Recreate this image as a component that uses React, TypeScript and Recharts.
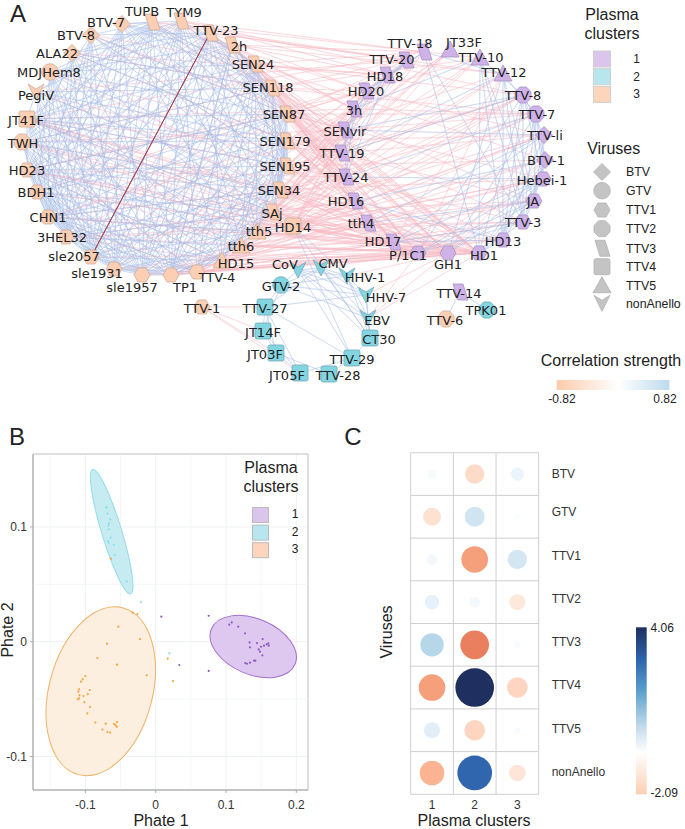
import React from 'react';
import {
  ComposedChart, ScatterChart, Line, Scatter, XAxis, YAxis, CartesianGrid, ReferenceLine, ReferenceArea,
} from 'recharts';

const SANS = '"Liberation Sans", Arial, sans-serif';
const NET_FONT = '"DejaVu Sans", sans-serif';

// ---- panel A: nodes [name, x, y, virus type, label x, label y]
type NodeRow = [string, number, number, string, number, number];

const cluster1Nodes: NodeRow[] = [
  ['TTV-18', 424, 52, 'TTV3', 410, 43], ['JT33F', 450, 50, 'TTV5', 464, 42], ['TTV-10', 480, 58, 'TTV5', 481, 57],
  ['TTV-12', 503, 74, 'TTV5', 504, 72], ['TTV-8', 523, 95, 'TTV2', 523, 95], ['TTV-7', 536, 114, 'TTV2', 537, 114],
  ['TTV-li', 544, 135, 'BTV', 545, 135], ['BTV-1', 545, 160, 'BTV', 546, 160], ['Hebei-1', 543, 179, 'TTV1', 542, 180],
  ['JA', 534, 201, 'TTV1', 533, 201], ['TTV-3', 523, 222, 'TTV1', 523, 222], ['HD13', 503, 240, 'TTV1', 503, 241],
  ['HD1', 479, 253, 'TTV1', 484, 255], ['GH1', 448, 253, 'TTV1', 448, 264], ['P/1C1', 418, 253, 'TTV1', 408, 255],
  ['HD17', 393, 242, 'TTV3', 383, 241], ['tth4', 368, 223, 'TTV3', 361, 223], ['HD16', 355, 201, 'TTV3', 346, 201],
  ['TTV-24', 346, 177, 'TTV3', 346, 177], ['TTV-19', 342, 153, 'TTV3', 342, 153], ['SENvir', 345, 130, 'TTV3', 345, 131],
  ['3h', 354, 109, 'TTV3', 354, 110], ['HD20', 366, 91, 'TTV3', 366, 91], ['HD18', 387, 75, 'TTV3', 385, 76],
  ['TTV-20', 406, 60, 'TTV3', 392, 59], ['TTV-14', 460, 292, 'TTV3', 459, 293],
];

const cluster2Nodes: NodeRow[] = [
  ['CoV', 298, 270, 'nonAnello', 285, 264], ['CMV', 321, 268, 'nonAnello', 333, 263], ['HHV-1', 347, 276, 'nonAnello', 365, 277],
  ['HHV-7', 366, 295, 'nonAnello', 386, 297], ['EBV', 368, 318, 'nonAnello', 377, 320], ['CT30', 370, 338, 'TTV4', 379, 339],
  ['TTV-29', 352, 358, 'TTV4', 352, 359], ['TTV-28', 329, 374, 'TTV4', 338, 375], ['JT05F', 300, 373, 'TTV4', 287, 375],
  ['JT03F', 276, 353, 'TTV4', 265, 354], ['JT14F', 263, 331, 'TTV4', 263, 332], ['TTV-27', 265, 307, 'TTV4', 265, 308],
  ['GTV-2', 281, 285, 'GTV', 281, 286], ['TPK01', 487, 310, 'TTV2', 486, 310],
];

const cluster3Nodes: NodeRow[] = [
  ['BTV-7', 122, 24, 'BTV', 106, 22], ['TUPB', 152, 22, 'TTV3', 142, 11], ['TYM9', 181, 21, 'TTV3', 184, 12],
  ['TTV-23', 210, 33, 'TTV3', 216, 30], ['2h', 232, 45, 'TTV3', 239, 46], ['SEN24', 255, 64, 'TTV3', 253, 64],
  ['SEN118', 272, 88, 'TTV3', 268, 87], ['SEN87', 287, 114, 'TTV3', 284, 114], ['SEN179', 287, 141, 'TTV3', 285, 141],
  ['SEN195', 287, 166, 'TTV3', 285, 166], ['SEN34', 280, 190, 'TTV3', 279, 190], ['SAj', 273, 212, 'TTV3', 272, 213],
  ['HD14', 293, 226, 'TTV4', 293, 227], ['tth5', 257, 232, 'TTV5', 259, 231], ['tth6', 241, 246, 'TTV5', 241, 246],
  ['HD15', 222, 261, 'TTV5', 236, 263], ['TTV-4', 197, 272, 'TTV1', 217, 277], ['TP1', 171, 275, 'TTV1', 185, 287],
  ['sle1957', 142, 275, 'TTV1', 132, 287], ['sle1931', 114, 269, 'TTV1', 97, 273], ['sle2057', 91, 257, 'TTV1', 74, 256],
  ['3HEL32', 66, 237, 'TTV1', 62, 237], ['CHN1', 48, 217, 'TTV1', 48, 217], ['BDH1', 37, 192, 'TTV1', 36, 192],
  ['HD23', 27, 170, 'TTV1', 27, 170], ['TWH', 22, 142, 'TTV2', 23, 143], ['JT41F', 27, 119, 'TTV4', 26, 120],
  ['PegiV', 36, 92, 'nonAnello', 36, 95], ['MDJHem8', 50, 72, 'GTV', 49, 72], ['ALA22', 72, 53, 'BTV', 57, 53],
  ['BTV-8', 91, 35, 'BTV', 76, 35], ['TTV-1', 202, 307, 'TTV1', 202, 308], ['TTV-6', 446, 319, 'TTV2', 445, 320],
];

// ---- panel A: edges, one fan per source node
const blueLinks: [string, string][] = [
  ['TUPB', 'BTV-7 BTV-8 MDJHem8 PegiV JT41F TWH HD23 BDH1 CHN1 3HEL32 sle2057 sle1931 sle1957 TP1 SEN118 SEN87 SEN179 SEN34 tth5 HD15'],
  ['TYM9', 'BTV-7 ALA22 PegiV JT41F HD23 CHN1 3HEL32 sle2057 sle1931 sle1957 TP1 TTV-4 SEN24 SEN87 SEN195 SAj tth6'],
  ['TTV-23', 'BTV-8 ALA22 MDJHem8 TWH BDH1 CHN1 3HEL32 sle1931 sle1957 TP1 SEN24 SEN118 SEN179 SEN34 tth5 HD15'],
  ['2h', 'BTV-7 MDJHem8 JT41F HD23 CHN1 sle2057 sle1957 TP1 TTV-4 SEN118 SEN87 SEN195'],
  ['BTV-7', 'BDH1 CHN1 3HEL32 sle2057 sle1931 sle1957 SEN24 SEN118 SEN179 SAj tth6 HD23'],
  ['BTV-8', 'TWH CHN1 3HEL32 sle1931 TP1 SEN87 SEN195 SEN34 sle2057 BDH1'],
  ['ALA22', 'HD23 CHN1 sle2057 sle1957 TTV-4 SEN118 SEN179 tth5 3HEL32'],
  ['MDJHem8', 'BDH1 3HEL32 sle2057 sle1931 TP1 SEN24 SEN87 SEN195 SAj HD15 CHN1 sle1957'],
  ['PegiV', 'CHN1 sle2057 sle1957 TTV-4 SEN118 SEN179 SEN34 tth6 JT41F 3HEL32'],
  ['JT41F', 'HD23 CHN1 3HEL32 sle1931 TP1 SEN24 SEN87 SEN195 SAj tth5 HD15 sle2057 sle1957 SEN179'],
  ['TWH', 'BDH1 3HEL32 sle2057 sle1957 TTV-4 SEN118 SEN179 SEN34 tth6 CHN1 sle1931'],
  ['HD23', 'CHN1 sle2057 sle1931 sle1957 TP1 SEN24 SEN87 SEN195 tth5 3HEL32 SEN34 HD15'],
  ['BDH1', '3HEL32 sle2057 sle1931 sle1957 TP1 TTV-4 SEN118 SEN179 SAj tth6 CHN1 SEN87'],
  ['CHN1', 'sle2057 sle1931 sle1957 TP1 SEN24 SEN87 SEN195 SEN34 tth5 HD15 3HEL32 TTV-4'],
  ['3HEL32', 'sle1931 sle1957 TTV-4 SEN118 SEN179 SAj tth6 sle2057 SEN34'],
  ['sle2057', 'sle1931 sle1957 TP1 SEN24 SEN87 SEN195 tth5 HD15 SEN34'],
  ['sle1931', 'sle1957 TP1 TTV-4 SEN118 SEN179 SEN34 tth6 SEN24'],
  ['sle1957', 'TP1 SEN24 SEN87 SEN195 SAj tth5 SEN118 HD15'],
  ['TP1', 'TTV-4 SEN118 SEN179 SEN34 tth6 SEN24 2h SEN87'],
  ['TTV-4', 'SEN24 SEN87 SEN195 tth5 SEN179 SAj'],
  ['SEN24', 'SEN179 SEN34 tth5 SEN195 HD15 tth6'],
  ['SEN118', 'SEN195 SAj tth6 SEN34 SEN87'],
  ['SEN87', 'SEN34 HD15 tth5 SEN195 SAj'],
  ['SEN179', 'SEN34 tth5 SEN195 HD15 SAj'],
  ['SEN195', 'tth6 SAj tth5 HD15'],
  ['HD14', 'TTV-29 CT30 tth5 HHV-1'],
  ['TTV-18', 'HD18 HD1 TTV-12 TTV-3 HD20'],
  ['TTV-10', 'HD13 JA TTV-8 HD1 TTV-3'],
  ['TTV-12', 'GH1 HD13 JA TTV-7 TTV-3'],
  ['TTV-8', 'HD1 TTV-3 HD13 BTV-1 TTV-li Hebei-1 P/1C1'],
  ['TTV-7', 'HD13 TTV-3 GH1 Hebei-1 JA BTV-1'],
  ['TTV-li', 'Hebei-1 JA HD17 HD13 tth4'],
  ['BTV-1', 'HD1 TTV-3 HD16 JA'],
  ['Hebei-1', 'TTV-24 HD17 GH1 HD1 P/1C1 HD13'],
  ['JA', 'tth4 HD1 P/1C1 GH1 TTV-3'],
  ['TTV-3', 'HD1 P/1C1 HD17'],
  ['HD13', 'HD1 HD17 HD16'],
  ['TTV-19', 'HD20 3h TTV-20 TTV-12 TTV-8'],
  ['TTV-24', 'SENvir 3h HD18 TTV-7'],
  ['SENvir', 'HD20 HD18 TTV-8 TTV-li'],
  ['3h', 'HD18 TTV-20 TTV-10'],
  ['HD20', 'TTV-20 TTV-18'],
  ['CMV', 'CoV HHV-1 HHV-7 EBV CT30 GTV-2 TTV-27'],
  ['CoV', 'HHV-1 HHV-7 EBV CT30 GTV-2 TTV-29'],
  ['HHV-1', 'HHV-7 EBV CT30 GTV-2'],
  ['HHV-7', 'EBV CT30 GTV-2 TTV-27'],
  ['EBV', 'CT30 GTV-2'],
  ['TTV-27', 'JT14F JT03F GTV-2 TTV-29 JT05F'],
  ['JT14F', 'JT03F JT05F GTV-2'],
  ['JT03F', 'JT05F TTV-28'],
  ['TTV-29', 'TTV-28 CT30 JT05F'],
  ['TTV-14', 'TTV-6 TPK01'],
];

const pinkLinks: [string, string][] = [
  ['HD1', 'TTV-23 2h SEN24 SEN118 SEN87 SEN179 SEN195 SEN34 SAj HD14 tth5 tth6 HD15 TTV-4 TP1 sle1957 sle1931 TYM9 TUPB JT41F TWH BDH1 CHN1 HD23 EBV'],
  ['GH1', 'TTV-23 2h SEN24 SEN118 SEN87 SEN179 SEN195 SEN34 SAj HD14 tth5 tth6 HD15 TTV-4 sle2057 3HEL32 MDJHem8 PegiV EBV HHV-7 HHV-1'],
  ['P/1C1', '2h SEN24 SEN118 SEN87 SEN179 SEN195 SEN34 SAj HD14 tth5 tth6 HD15 TP1 sle1957 JT41F TWH HD23 CMV'],
  ['HD17', 'TTV-23 2h SEN24 SEN118 SEN87 SEN179 SEN34 HD14 tth5 HD15 TTV-4 CHN1 BDH1'],
  ['tth4', 'TYM9 2h SEN24 SEN118 SEN87 SEN195 SAj HD14 tth6 TP1 JT41F'],
  ['HD16', 'TUPB SEN24 SEN118 SEN179 SEN34 SAj HD14 tth5 HD15 3HEL32 TWH'],
  ['TTV-24', 'TTV-23 2h SEN118 SEN87 SEN195 SEN34 SAj HD14 tth6 sle2057 PegiV HD23'],
  ['TTV-19', 'TYM9 2h SEN24 SEN179 SEN195 SAj HD14 tth5 TTV-4 MDJHem8 JT41F'],
  ['SENvir', 'TUPB TTV-23 SEN118 SEN87 SEN34 SAj HD14 tth6 CHN1 TWH BTV-8'],
  ['3h', 'TYM9 2h SEN24 SEN179 SEN195 HD14 tth5 sle1931 JT41F'],
  ['HD20', 'TUPB TTV-23 SEN118 SEN87 SEN34 SAj HD15 TP1 HD23'],
  ['HD18', 'TYM9 2h SEN24 SEN179 SEN195 HD14 tth6 BDH1 ALA22'],
  ['TTV-20', 'TUPB TTV-23 SEN118 SEN87 SEN34 tth5 HD15 PegiV'],
  ['TTV-18', 'TYM9 2h SEN24 SEN179 HD14 tth6 JT41F'],
  ['JT33F', 'HD14 SEN195 tth5 SAj TTV-4 sle1957'],
  ['TTV-10', 'TUPB SEN118 SEN87 HD14 tth6 SEN34'],
  ['TTV-12', 'TTV-23 2h SEN179 SAj HD15 HD17 P/1C1'],
  ['TTV-8', 'TYM9 SEN24 SEN195 HD14 TP1 HD16 TTV-19 TTV-24'],
  ['TTV-7', 'SEN118 SEN87 SEN34 HD14 tth5 SENvir 3h'],
  ['TTV-li', 'SEN179 SAj HD14 tth6 TTV-4 HD20 TTV-19 GH1'],
  ['BTV-1', 'SEN24 SEN195 HD14 HD15 P/1C1 GH1'],
  ['Hebei-1', 'SEN87 SEN34 HD14 tth5 TP1 sle1957'],
  ['JA', 'SEN118 SEN179 SAj HD14 tth6 HD15'],
  ['TTV-3', 'SEN87 SEN195 HD14 tth5 TTV-4 sle1931'],
  ['HD13', 'SEN179 SEN34 HD14 tth6 HD15 TP1'],
  ['JT41F', 'SEN34 SEN195 HD14 SAj'],
  ['TWH', 'SEN118 tth5 HD14 TTV-4'],
  ['HD23', 'SEN87 SAj HD14 HD15 tth6'],
  ['CHN1', 'SEN179 SEN34 HD14 TTV-4'],
  ['3HEL32', 'SEN87 tth5 HD14 HD15'],
  ['BTV-8', 'SEN24 SEN87 SEN195'],
  ['ALA22', 'SEN118 SEN179 HD14'],
  ['TTV-4', 'HD14 HD15'],
  ['TP1', 'HD14 tth6'],
  ['TTV-1', 'TTV-27 JT14F JT03F JT05F'],
  ['EBV', 'CT30 P/1C1'],
];

const darkLinks: [string, string][] = [['TTV-23', 'sle2057']];

// ---- panel A + B legends
const clusterLabels = ['1', '2', '3'];
const virusTypes = ['BTV', 'GTV', 'TTV1', 'TTV2', 'TTV3', 'TTV4', 'TTV5', 'nonAnello'];

// ---- panel B: samples (Phate 1, Phate 2)
const phatePurple = [
  [0.008, 0.0218], [0.0336, -0.0203], [0.0754, 0.0226], [0.0754, -0.0255], [0.1047, 0.0148], [0.1081, 0.0168],
  [0.1175, 0.0131], [0.127, 0.0073], [0.1336, -0.0006], [0.1341, -0.0049], [0.1441, -0.0012], [0.1521, 0.0023],
  [0.1464, -0.0067], [0.1498, -0.0044], [0.1483, -0.0087], [0.154, -0.0035], [0.1517, -0.0119], [0.1578, -0.0023],
  [0.1602, -0.0015], [0.1607, -0.0035], [0.1275, -0.0186], [0.1299, -0.0192], [0.1341, -0.0183], [0.1398, -0.0165],
  [0.1417, -0.0165],
];
const phateTeal = [
  [-0.0706, 0.117], [-0.0697, 0.1167], [-0.0687, 0.1115], [-0.0649, 0.1065], [-0.0664, 0.103], [-0.0673, 0.1013],
  [-0.0668, 0.0978], [-0.064, 0.0906], [-0.0678, 0.0877], [-0.0668, 0.0862], [-0.0597, 0.0842], [-0.0583, 0.0755],
  [-0.0412, 0.0525], [-0.0209, 0.0345], [0.0194, -0.0102],
];
const phateOrange = [
  [-0.0635, 0.0723], [-0.0327, 0.0253], [-0.0261, 0.0241], [-0.0531, 0.0131], [-0.0223, 0.0023], [-0.0692, -0.0017],
  [-0.0829, -0.0142], [-0.055, -0.02], [0.0171, -0.0148], [-0.0128, -0.0293], [0.0246, -0.0343], [-0.1, -0.0299],
  [-0.1038, -0.0328], [-0.1062, -0.0348], [-0.109, -0.0415], [-0.0938, -0.0421], [-0.11, -0.0435], [-0.0967, -0.0456],
  [-0.1085, -0.0467], [-0.1028, -0.0473], [-0.1109, -0.0502], [-0.109, -0.0493], [-0.1014, -0.0528], [-0.0934, -0.0569],
  [-0.0972, -0.0624], [-0.0858, -0.0705], [-0.0711, -0.0714], [-0.055, -0.07], [-0.0592, -0.0717], [-0.0573, -0.0726],
  [-0.0555, -0.074], [-0.0758, -0.0766], [-0.0687, -0.0787], [-0.0649, -0.0792],
];
const ellipseCentres = [
  { x: 0.1387, y: -0.0042, rx: 45.4, ry: 27.8, angle: 23, fill: '#dfc8f0', stroke: '#a26fcb' },
  { x: -0.0626, y: 0.0958, rx: 65, ry: 10, angle: 73, fill: '#c6ecf2', stroke: '#93dce6' },
  { x: -0.0781, y: -0.0432, rx: 86.3, ry: 51.7, angle: -75, fill: '#fdefdf', stroke: '#f1b163' },
];
const phateXTicks = [-0.1, 0, 0.1, 0.2];
const phateYTicks = [-0.1, 0, 0.1];
const phateXMinor = [-0.15, -0.05, 0.05, 0.15];
const phateYMinor = [-0.05, 0.05];

// ---- panel C: values per cluster
const matrixViruses = ['BTV', 'GTV', 'TTV1', 'TTV2', 'TTV3', 'TTV4', 'TTV5', 'nonAnello'];
const matrixCluster1 = [0.2, -0.88, 0.31, 0.58, 1.48, -1.93, 0.7, -1.65];
const matrixCluster2 = [-1.02, 1.09, -1.93, 0.31, -2.23, 4.06, -1.16, 3.27];
const matrixCluster3 = [0.48, 0.08, 1.02, -0.7, 0.12, -1.16, 0.1, -0.75];
const matrixLabelNudge = [0, -5, -3.5, -3, -3, -2.5, -2, -1];

const colourStops: [number, number[]][] = [
  [-2.23, [233, 127, 94]], [-1.93, [245, 160, 122]], [-1.65, [252, 179, 145]], [-1.16, [253, 213, 192]],
  [-0.7, [253, 232, 220]], [0, [255, 255, 255]], [0.1, [247, 251, 255]], [0.31, [243, 248, 253]],
  [0.6, [230, 240, 249]], [1.05, [211, 229, 242]], [1.48, [182, 214, 233]], [3.27, [47, 102, 173]], [4.06, [31, 47, 96]],
];

function valueColour(v: number) {
  for (let i = 1; i < colourStops.length; i++) {
    const [a, ca] = colourStops[i - 1];
    const [b, cb] = colourStops[i];
    if (v <= b) {
      const t = Math.max(0, (v - a) / (b - a));
      return `rgb(${ca.map((c, k) => Math.round(c + (cb[k] - c) * t)).join(',')})`;
    }
  }
  return 'rgb(31,47,96)';
}

const clusterFill: Record<number, string> = { 1: '#cfb2e8', 2: '#84d5e2', 3: '#fcceb3' };
const clusterEdge: Record<number, string> = { 1: '#a894c0', 2: '#72a9b5', 3: '#cfae9b' };

function Marker({ type, cx, cy, fill, stroke }: { type: string; cx: number; cy: number; fill: string; stroke: string }) {
  const poly = (pts: number[][]) => (
    <polygon points={pts.map(p => `${cx + p[0]},${cy + p[1]}`).join(' ')} fill={fill} stroke={stroke} strokeWidth={0.8} />
  );
  if (type === 'BTV') return poly([[0, -8.5], [8.5, 0], [0, 8.5], [-8.5, 0]]);
  if (type === 'GTV') return <circle cx={cx} cy={cy} r={8.3} fill={fill} stroke={stroke} strokeWidth={0.8} />;
  if (type === 'TTV1') return poly([[-8, 0], [-4, -7], [4, -7], [8, 0], [4, 7], [-4, 7]]);
  if (type === 'TTV2') return poly([[-3.3, -8], [3.3, -8], [8, -3.3], [8, 3.3], [3.3, 8], [-3.3, 8], [-8, 3.3], [-8, -3.3]]);
  if (type === 'TTV3') return poly([[-7, -8], [3, -8], [8, 8], [-2, 8]]);
  if (type === 'TTV4') return <rect x={cx - 8} y={cy - 8} width={16} height={16} rx={2} fill={fill} stroke={stroke} strokeWidth={0.8} />;
  if (type === 'TTV5') return poly([[0, -9], [9, 7], [-9, 7]]);
  return poly([[-8, -8], [0, -3], [8, -8], [0, 8]]);
}

const allNodes = [
  ...cluster1Nodes.map(n => ({ n, c: 1 })),
  ...cluster2Nodes.map(n => ({ n, c: 2 })),
  ...cluster3Nodes.map(n => ({ n, c: 3 })),
].map(({ n, c }) => ({ name: n[0], x: n[1], y: n[2], type: n[3], lx: n[4], ly: n[5], cluster: c }));

const nodeByName = new Map(allNodes.map(n => [n.name, n]));
const labelPoints = allNodes.map(n => ({ name: n.name, x: n.lx, y: n.ly }));

// zigzag source -> target -> source so one Line series carries a whole fan
function fanPoints(source: string, targets: string) {
  const s = nodeByName.get(source)!;
  const pts: { x: number; y: number }[] = [{ x: s.x, y: s.y }];
  targets.split(' ').forEach(t => {
    const n = nodeByName.get(t);
    if (!n) return;
    pts.push({ x: n.x, y: n.y }, { x: s.x, y: s.y });
  });
  return pts;
}

function fans(rows: [string, string][], colour: string, width: number, prefix: string) {
  return rows.map(([s, t]) => (
    <Line key={prefix + s} data={fanPoints(s, t)} dataKey="y" stroke={colour} strokeWidth={width} dot={false} activeDot={false}
      isAnimationActive={false} legendType="none" />
  ));
}

function NetworkPanel() {
  const box = { width: 685, height: 410, margin: { top: 0, right: 0, bottom: 0, left: 0 } };
  const axes = [
    <XAxis key="x" hide type="number" dataKey="x" domain={[0, 685]} />,
    <YAxis key="y" hide type="number" dataKey="y" domain={[0, 410]} reversed />,
  ];
  return (
    <>
      {/* edges in their own chart, the nodes chart sits on top of it */}
      <div style={{ position: 'absolute', left: 0, top: 0 }}>
        <ComposedChart {...box}>
          {axes}
          {fans(pinkLinks, 'rgba(248,184,194,0.42)', 0.75, 'p')}
          {fans(blueLinks, 'rgba(170,190,232,0.45)', 0.75, 'b')}
          {fans(darkLinks, '#a5485a', 1, 'd')}
        </ComposedChart>
      </div>
      <div style={{ position: 'absolute', left: 0, top: 0 }}>
        <ComposedChart {...box}>
          {axes}
          <Scatter data={allNodes} isAnimationActive={false} shape={(p: any) => (
            <Marker type={p.payload.type} cx={p.cx} cy={p.cy} fill={clusterFill[p.payload.cluster]} stroke={clusterEdge[p.payload.cluster]} />
          )} />
          <Scatter data={labelPoints} isAnimationActive={false} shape={(p: any) => (
            <text x={p.cx} y={p.cy} dy="0.36em" textAnchor="middle" fontFamily={NET_FONT} fontSize={13} fill="#222">{p.payload.name}</text>
          )} />
        </ComposedChart>
      </div>
    </>
  );
}

const toXY = (rows: number[][]) => rows.map(r => ({ x: r[0], y: r[1] }));

function PhatePanel() {
  const dot = (colour: string) => (p: any) => <circle cx={p.cx} cy={p.cy} r={1.1} fill={colour} />;
  const tickStyle = { fontFamily: SANS, fontSize: 12, fill: '#333' };
  const fmt = (v: number) => (v === 0 ? '0' : String(v));
  return (
    <div style={{ position: 'absolute', left: 0, top: 440 }}>
      <ScatterChart width={330} height={389} margin={{ top: 14, right: 22, bottom: 0, left: 0 }}>
        <CartesianGrid stroke="#eef2f2" />
        {phateXMinor.map(v => <ReferenceLine key={'x' + v} x={v} stroke="#f4f6f6" />)}
        {phateYMinor.map(v => <ReferenceLine key={'y' + v} y={v} stroke="#f4f6f6" />)}
        <ReferenceArea x1={-0.1745} x2={0.2166} y1={-0.1292} y2={0.1635} fill="none" stroke="#c4c4c4" />
        <XAxis type="number" dataKey="x" domain={[-0.1745, 0.2166]} ticks={phateXTicks} tickFormatter={fmt} height={39}
          tick={tickStyle} tickSize={3} tickMargin={7} stroke="#aaa" interval={0} />
        <YAxis type="number" dataKey="y" domain={[-0.1292, 0.1635]} ticks={phateYTicks} tickFormatter={fmt} width={33}
          tick={tickStyle} tickSize={3} tickMargin={3} stroke="#aaa" interval={0} />
        <Scatter data={ellipseCentres} isAnimationActive={false} shape={(p: any) => (
          <ellipse cx={p.cx} cy={p.cy} rx={p.payload.rx} ry={p.payload.ry} fill={p.payload.fill} stroke={p.payload.stroke}
            transform={`rotate(${p.payload.angle} ${p.cx} ${p.cy})`} />
        )} />
        <Scatter data={toXY(phatePurple)} isAnimationActive={false} shape={dot('#8f5cc2')} />
        <Scatter data={toXY(phateTeal)} isAnimationActive={false} shape={dot('#8fdde8')} />
        <Scatter data={toXY(phateOrange)} isAnimationActive={false} shape={dot('#f5a33c')} />
      </ScatterChart>
    </div>
  );
}

const matrixRows = (values: number[], col: number) => values.map((v, i) => ({ x: col, y: i + 1, v }));

function MatrixPanel() {
  const bubble = (p: any) => {
    const v = p.payload.v;
    return <circle cx={p.cx} cy={p.cy} r={9.59 * Math.sqrt(Math.abs(v))} fill={valueColour(v)} />;
  };
  const gridX = [0.5, 1.5, 2.5, 3.5];
  const gridY = [0.5, 1.5, 2.5, 3.5, 4.5, 5.5, 6.5, 7.5, 8.5];
  return (
    <div style={{ position: 'absolute', left: 400, top: 445 }}>
      <ScatterChart width={230} height={384} margin={{ top: 7.7, right: 0, bottom: 0, left: 10.7 }}>
        <XAxis type="number" dataKey="x" domain={[0.5, 3.5]} ticks={[1, 2, 3]} height={34.7} axisLine={false} tickLine={false}
          tick={{ fontFamily: SANS, fontSize: 12, fill: '#333' }} tickMargin={0} interval={0} />
        <YAxis type="number" dataKey="y" orientation="right" reversed domain={[0.5, 8.5]} ticks={[1, 2, 3, 4, 5, 6, 7, 8]} width={91.3}
          axisLine={false} tickLine={false} interval={0}
          tick={(p: any) => (
            <text x={p.x + 5} y={p.y + matrixLabelNudge[p.payload.value - 1]} dy="0.36em" fontFamily={SANS} fontSize={12} fill="#333">
              {matrixViruses[p.payload.value - 1]}
            </text>
          )} />
        {gridX.map(v => <ReferenceLine key={'gx' + v} x={v} stroke="#cfcfcf" strokeWidth={1} />)}
        {gridY.map(v => <ReferenceLine key={'gy' + v} y={v} stroke="#cfcfcf" strokeWidth={1} />)}
        <Scatter data={matrixRows(matrixCluster1, 1)} isAnimationActive={false} shape={bubble} />
        <Scatter data={matrixRows(matrixCluster2, 2)} isAnimationActive={false} shape={bubble} />
        <Scatter data={matrixRows(matrixCluster3, 3)} isAnimationActive={false} shape={bubble} />
      </ScatterChart>
    </div>
  );
}

// everything that is not a mark: legends, panel letters, axis titles
function Annotations() {
  const t = (s: string, x: number, y: number, size: number, anchor = 'middle', extra: any = {}) => (
    <text x={x} y={y} dy="0.36em" fontFamily={SANS} fontSize={size} textAnchor={anchor} fill="#222" {...extra}>{s}</text>
  );
  const swatchFill = ['#dcc5ec', '#b7e6ef', '#fdd5bd'];
  const virusY = [172, 190.7, 210, 228.7, 248.3, 266.7, 285.7, 303.3];
  return (
    <svg width={685} height={829} style={{ position: 'absolute', left: 0, top: 0, pointerEvents: 'none' }}>
      <defs>
        <linearGradient id="corr" x1="0" x2="1" y1="0" y2="0">
          <stop offset="0" stopColor="#fccbac" />
          <stop offset="0.55" stopColor="#ffffff" />
          <stop offset="1" stopColor="#bddbec" />
        </linearGradient>
        <linearGradient id="fc" x1="0" x2="0" y1="0" y2="1">
          <stop offset="0" stopColor="#1f2f60" />
          <stop offset="0.2" stopColor="#2f66ad" />
          <stop offset="0.38" stopColor="#5aa0cc" />
          <stop offset="0.6" stopColor="#c5dcec" />
          <stop offset="0.75" stopColor="#ffffff" />
          <stop offset="1" stopColor="#fdcfb3" />
        </linearGradient>
      </defs>
      {t('A', 18, 13, 24)}
      {t('B', 17, 436, 24)}
      {t('C', 353, 436, 24)}

      {t('Plasma', 612, 14, 16)}
      {t('clusters', 612, 33, 16)}
      {clusterLabels.map((c, i) => (
        <g key={c}>
          <rect x={593.5} y={51 + i * 17.7} width={17} height={16} fill={swatchFill[i]} stroke="#cfcfcf" />
          {t(c, 636.7, 58.5 + i * 17.8, 12)}
        </g>
      ))}
      {t('Viruses', 613.7, 148, 16)}
      {virusTypes.map((v, i) => (
        <g key={v}>
          <Marker type={v} cx={602} cy={virusY[i]} fill="#c4c4c4" stroke="#b2b2b2" />
          {t(v, 626, virusY[i], 12.3, 'start')}
        </g>
      ))}
      {t('Correlation strength', 611, 360, 16)}
      <rect x={556.7} y={380} width={112.6} height={10} fill="url(#corr)" />
      {t('-0.82', 562, 399, 12)}
      {t('0.82', 665, 399, 12)}

      {t('Plasma', 271, 467, 16)}
      {t('clusters', 271, 486, 16)}
      {clusterLabels.map((c, i) => (
        <g key={'b' + c}>
          <rect x={252.5} y={507.5 + i * 17.6} width={16} height={15} fill={swatchFill[i]} stroke="#bcbcbc" />
          {t(c, 295, 513.5 + i * 17.8, 12)}
        </g>
      ))}
      {t('Phate 1', 161, 820, 16)}
      {t('Phate 2', 7, 630, 16, 'middle', { transform: 'rotate(-90 7 630)' })}

      {t('Plasma clusters', 474, 820, 16)}
      {t('Viruses', 386, 632, 16, 'middle', { transform: 'rotate(-90 386 632)' })}
      <rect x={636} y={627.3} width={10.7} height={167} fill="url(#fc)" />
      {t('4.06', 650.5, 628, 12, 'start')}
      {t('-2.09', 650.5, 793, 12, 'start')}
    </svg>
  );
}

export default function App() {
  return (
    <div style={{ position: 'absolute', left: 0, top: 0, width: 685, height: 829, background: '#fff', overflow: 'hidden' }}>
      <NetworkPanel />
      <PhatePanel />
      <MatrixPanel />
      <Annotations />
    </div>
  );
}
